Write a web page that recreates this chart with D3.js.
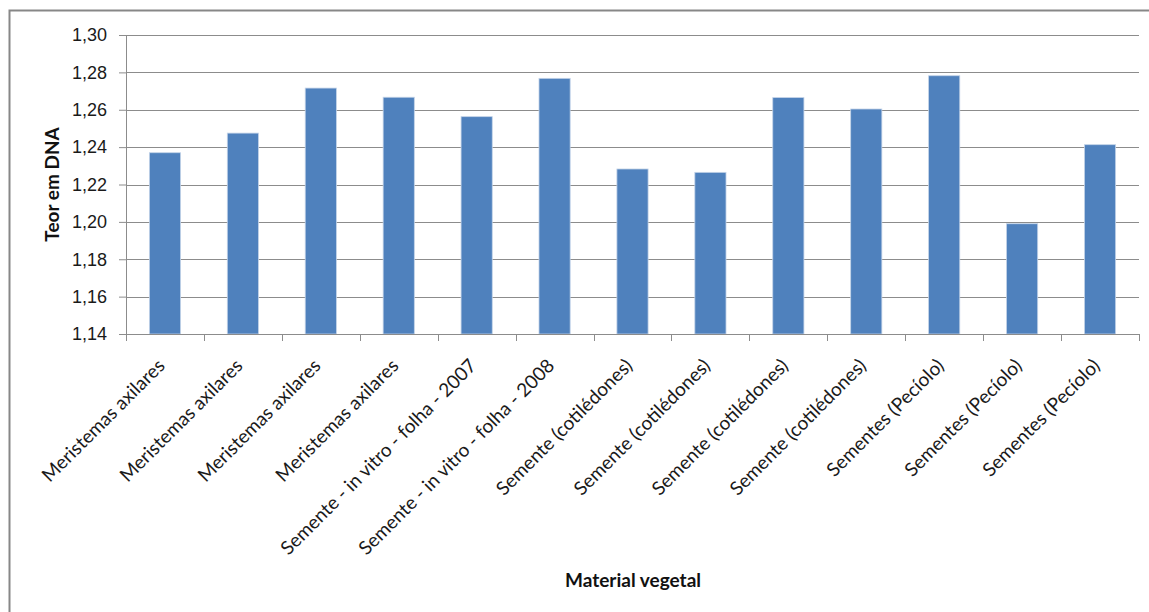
<!DOCTYPE html>
<html>
<head>
<meta charset="utf-8">
<script src="https://cdn.jsdelivr.net/npm/d3@7"></script>
<style>
	body { margin: 0; background: #fff; }
	svg { display: block; font-family: Lato, "Open Sans", sans-serif; }
</style>
</head>
<body>
<div id="chart"></div>
<script>
// categories and values
const categories = [
	"Meristemas axilares", "Meristemas axilares", "Meristemas axilares", "Meristemas axilares",
	"Semente - in vitro - folha - 2007", "Semente - in vitro - folha - 2008",
	"Semente (cotilédones)", "Semente (cotilédones)", "Semente (cotilédones)", "Semente (cotilédones)",
	"Sementes (Pecíolo)", "Sementes (Pecíolo)", "Sementes (Pecíolo)"
];
const values = [1.237, 1.2475, 1.2716, 1.2667, 1.2563, 1.2768, 1.2283, 1.2265, 1.2665, 1.2604, 1.2782, 1.1990, 1.2413];
const yTicks = [1.14, 1.16, 1.18, 1.20, 1.22, 1.24, 1.26, 1.28, 1.30];

const width = 1149, height = 612;
const margin = { top: 35, left: 126 };
const plotW = 1139 - margin.left;
const plotH = 334 - margin.top;

const svg = d3.select('#chart').append('svg')
	.attr('width', width)
	.attr('height', height);

// outer chart border (runs off the right and bottom edges)
svg.append('rect')
	.attr('x', 9.5)
	.attr('y', 10.5)
	.attr('width', 1200)
	.attr('height', 700)
	.attr('fill', 'none')
	.attr('stroke', '#878787')
	.attr('stroke-width', 2);

const g = svg.append('g')
	.attr('transform', 'translate(' + margin.left + ',' + margin.top + ')');

const x = d3.scaleBand()
	.domain(d3.range(categories.length))
	.range([0, plotW])
	.paddingInner(0.6)
	.paddingOuter(0.3);

const y = d3.scaleLinear()
	.domain([1.14, 1.30])
	.range([plotH, 0]);

const fmt = d => d3.format('.2f')(d).replace('.', ',');

// gridlines
g.append('g')
	.selectAll('line')
	.data(yTicks.slice(1))
	.enter()
	.append('line')
	.attr('x1', 0)
	.attr('x2', plotW)
	.attr('y1', d => Math.round(y(d)) + 0.5)
	.attr('y2', d => Math.round(y(d)) + 0.5)
	.attr('stroke', '#8c8c8c')
	.attr('stroke-width', 1);

// y axis
const yAxis = g.append('g')
	.call(d3.axisLeft(y).tickValues(yTicks).tickFormat(fmt).tickSize(7).tickPadding(12));
yAxis.select('.domain').attr('stroke', '#8c8c8c');
yAxis.selectAll('line').attr('stroke', '#8c8c8c');
yAxis.selectAll('text')
	.attr('font-size', 18)
	.attr('fill', '#1a1a1a');

// bars
g.selectAll('.bar')
	.data(values)
	.enter()
	.append('rect')
	.attr('class', 'bar')
	.attr('x', (d, i) => x(i))
	.attr('y', d => y(d))
	.attr('width', x.bandwidth())
	.attr('height', d => plotH - y(d))
	.attr('fill', '#4f81bd')
	.attr('stroke', '#c3d3e8')
	.attr('stroke-width', 0.8);

// x axis line and ticks at category boundaries
const step = plotW / categories.length;
g.append('line')
	.attr('x1', 0)
	.attr('x2', plotW)
	.attr('y1', plotH + 0.5)
	.attr('y2', plotH + 0.5)
	.attr('stroke', '#8c8c8c');

g.append('g')
	.selectAll('line')
	.data(d3.range(categories.length + 1))
	.enter()
	.append('line')
	.attr('x1', i => Math.round(i * step) + 0.5)
	.attr('x2', i => Math.round(i * step) + 0.5)
	.attr('y1', plotH)
	.attr('y2', plotH + 7)
	.attr('stroke', '#8c8c8c');

// x tick labels, rotated
g.append('g')
	.selectAll('text')
	.data(categories)
	.enter()
	.append('text')
	.attr('transform', (d, i) => 'translate(' + (x(i) + x.bandwidth() / 2 + 1) + ',' + (plotH + 33) + ') rotate(-45)')
	.attr('text-anchor', 'end')
	.attr('font-size', 19)
	.attr('fill', '#1a1a1a')
	.text(d => d);

// axis titles
svg.append('text')
	.attr('transform', 'translate(59,' + (margin.top + plotH / 2) + ') rotate(-90)')
	.attr('text-anchor', 'middle')
	.attr('font-size', 19)
	.attr('font-weight', 'bold')
	.attr('fill', '#111')
	.text('Teor em DNA');

svg.append('text')
	.attr('x', 633)
	.attr('y', 587)
	.attr('text-anchor', 'middle')
	.attr('font-size', 19)
	.attr('font-weight', 'bold')
	.attr('fill', '#111')
	.text('Material vegetal');
</script>
</body>
</html>
